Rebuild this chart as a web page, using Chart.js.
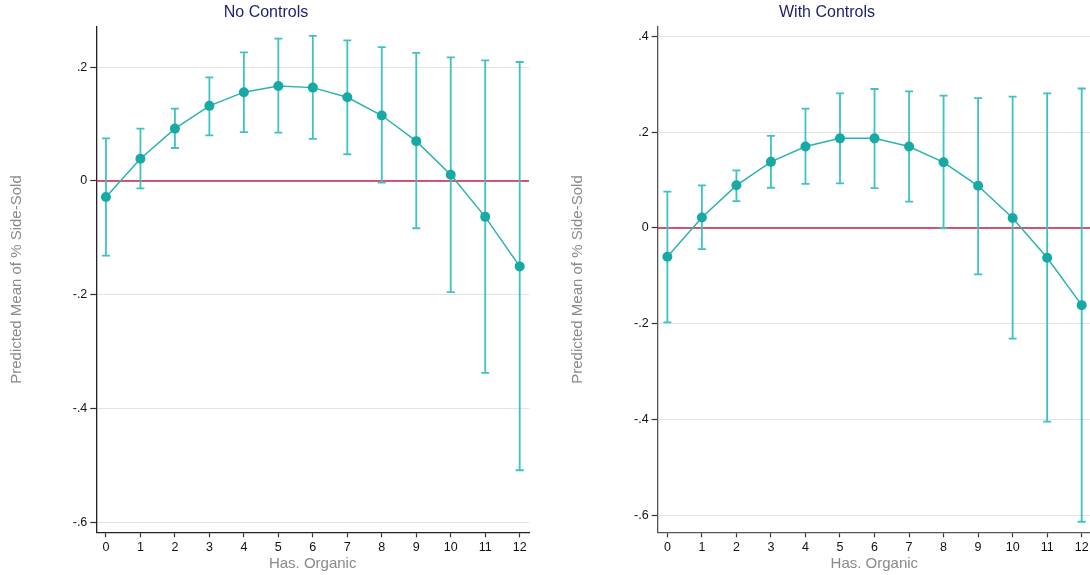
<!DOCTYPE html>
<html>
<head>
<meta charset="utf-8">
<script src="https://cdn.jsdelivr.net/npm/chart.js@4/dist/chart.umd.min.js"></script>
<style>
  html, body { margin: 0; padding: 0; background: #fff; }
  body { width: 1090px; height: 575px; overflow: hidden; position: relative; }
  .panel { position: absolute; top: 0; height: 575px; }
</style>
</head>
<body>
<div class="panel" style="left:0px;width:534px"><canvas id="chartLeft" width="534" height="575"></canvas></div>
<div class="panel" style="left:560px;width:536px"><canvas id="chartRight" width="536" height="575"></canvas></div>
<script>
// Has. Organic categories
const organicCats = [0, 1, 2, 3, 4, 5, 6, 7, 8, 9, 10, 11, 12];

// No Controls: predicted mean and 95% CI
const noCtrlMean = [-0.028, 0.039, 0.092, 0.132, 0.156, 0.167, 0.164, 0.147, 0.115, 0.070, 0.011, -0.063, -0.150];
const noCtrlLow  = [-0.131, -0.013, 0.058, 0.080, 0.086, 0.085, 0.074, 0.047, -0.003, -0.083, -0.195, -0.337, -0.508];
const noCtrlHigh = [0.075, 0.092, 0.127, 0.182, 0.226, 0.250, 0.255, 0.247, 0.235, 0.225, 0.217, 0.212, 0.209];

// With Controls
const ctrlMean = [-0.060, 0.022, 0.089, 0.138, 0.170, 0.187, 0.187, 0.170, 0.137, 0.088, 0.021, -0.062, -0.161];
const ctrlLow  = [-0.197, -0.044, 0.056, 0.084, 0.092, 0.093, 0.083, 0.055, -0.001, -0.097, -0.231, -0.404, -0.613];
const ctrlHigh = [0.076, 0.089, 0.120, 0.192, 0.249, 0.281, 0.290, 0.285, 0.276, 0.271, 0.274, 0.281, 0.291];

// tick values / labels
const leftYTicks = [-0.6, -0.4, -0.2, 0, 0.2];
const leftYTickLabels = ['-.6', '-.4', '-.2', '0', '.2'];
const rightYTicks = [-0.6, -0.4, -0.2, 0, 0.2, 0.4];
const rightYTickLabels = ['-.6', '-.4', '-.2', '0', '.2', '.4'];
const refLineValue = 0;

const FONT = "'Liberation Sans', Arial, Helvetica, sans-serif";

// red reference line + CI whiskers, drawn under the connected markers
const errorBarPlugin = {
  id: 'errorBars',
  beforeDatasetsDraw(chart, args, opts) {
    const ctx = chart.ctx;
    const xs = chart.scales.x, ys = chart.scales.y;
    const area = chart.chartArea;
    ctx.save();
    // reference line at y = 0
    ctx.strokeStyle = '#c8204a';
    ctx.lineWidth = 1.6;
    const y0 = ys.getPixelForValue(refLineValue);
    ctx.beginPath();
    ctx.moveTo(area.left, y0);
    ctx.lineTo(area.right, y0);
    ctx.stroke();
    // whiskers
    ctx.strokeStyle = '#3ec2c2';
    ctx.lineWidth = 1.8;
    opts.low.forEach((lo, i) => {
      const px = xs.getPixelForValue(organicCats[i]);
      const pLo = ys.getPixelForValue(lo);
      const pHi = ys.getPixelForValue(opts.high[i]);
      ctx.beginPath();
      ctx.moveTo(px, pLo); ctx.lineTo(px, pHi);
      ctx.moveTo(px - 4, pLo); ctx.lineTo(px + 4, pLo);
      ctx.moveTo(px - 4, pHi); ctx.lineTo(px + 4, pHi);
      ctx.stroke();
    });
    ctx.restore();
  }
};

function makeChart(id, cfg) {
  const ctx = document.getElementById(id).getContext('2d');
  return new Chart(ctx, {
    type: 'line',
    data: {
      datasets: [{
        data: organicCats.map((c, i) => ({ x: c, y: cfg.mean[i] })),
        borderColor: '#2bb3ae',
        borderWidth: 1.5,
        pointRadius: 5,
        pointBackgroundColor: '#17aaa4',
        pointBorderWidth: 0,
        tension: 0
      }]
    },
    plugins: [errorBarPlugin],
    options: {
      responsive: false,
      animation: false,
      devicePixelRatio: 1,
      layout: { padding: { left: 0, right: 2, top: 0, bottom: 0 } },
      plugins: {
        legend: { display: false },
        tooltip: { enabled: false },
        title: {
          display: true,
          text: cfg.title,
          color: '#1c1f6e',
          font: { family: FONT, size: 16, weight: 'normal', lineHeight: 1.2 },
          padding: { top: 2.5, bottom: 5 }
        },
        errorBars: { low: cfg.low, high: cfg.high }
      },
      scales: {
        x: {
          type: 'linear',
          min: -0.28,
          max: 12.27,
          afterBuildTicks: s => { s.ticks = organicCats.map(v => ({ value: v })); },
          afterFit: s => { s.height = 42.7; },
          grid: { drawOnChartArea: false, tickLength: 5, tickColor: '#333', tickWidth: 1.2 },
          border: { color: cfg.axisColor, width: 1.3 },
          ticks: { color: '#111', font: { family: FONT, size: 12.5 }, padding: 3, maxRotation: 0, autoSkip: false },
          title: {
            display: true,
            text: 'Has. Organic',
            color: '#8a8a8a',
            font: { family: FONT, size: 15, lineHeight: 1.2 },
            padding: { top: 0, bottom: 2 }
          }
        },
        y: {
          min: cfg.yMin,
          max: cfg.yMax,
          afterBuildTicks: s => { s.ticks = cfg.yTicks.map(v => ({ value: v })); },
          afterFit: s => { s.width = cfg.yWidth; },
          grid: { color: '#e3e3e3', lineWidth: 1, tickLength: 6, tickColor: '#333', tickWidth: 1.2 },
          border: { color: cfg.axisColor, width: 1.3 },
          ticks: {
            color: '#111',
            font: { family: FONT, size: 12.5 },
            padding: 3,
            callback: (v, i) => cfg.yTickLabels[i]
          },
          title: {
            display: true,
            text: 'Predicted Mean of % Side-Sold',
            color: '#8a8a8a',
            font: { family: FONT, size: 15, lineHeight: 1.2 },
            padding: { top: cfg.yTitlePad, bottom: 0 }
          }
        }
      }
    }
  });
}

makeChart('chartLeft', {
  title: 'No Controls',
  mean: noCtrlMean, low: noCtrlLow, high: noCtrlHigh,
  yMin: -0.617, yMax: 0.271,
  yTicks: leftYTicks, yTickLabels: leftYTickLabels,
  yWidth: 96.3, yTitlePad: 7.5, axisColor: '#222'
});

makeChart('chartRight', {
  title: 'With Controls',
  mean: ctrlMean, low: ctrlLow, high: ctrlHigh,
  yMin: -0.635, yMax: 0.42,
  yTicks: rightYTicks, yTickLabels: rightYTickLabels,
  yWidth: 97.7, yTitlePad: 9, axisColor: '#555'
});
</script>
</body>
</html>
